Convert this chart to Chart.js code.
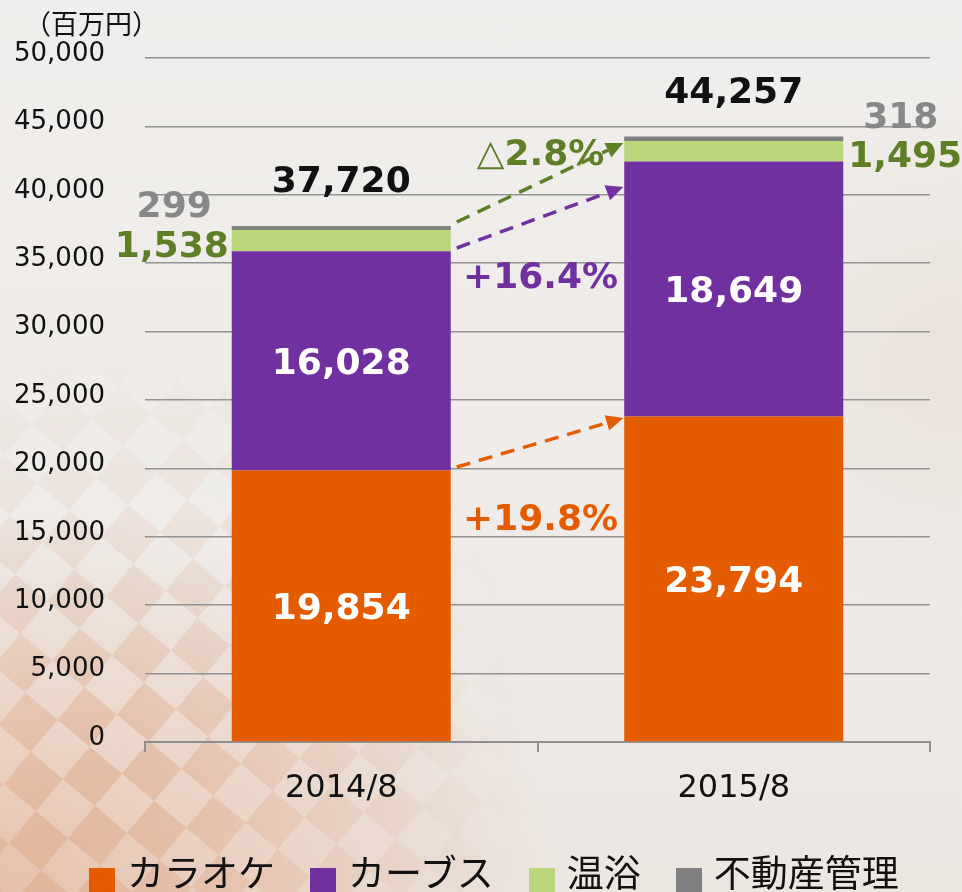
<!DOCTYPE html>
<html lang="ja">
<head>
<meta charset="utf-8">
<title>売上高推移</title>
<script src="https://cdn.jsdelivr.net/npm/chart.js@4.4.1/dist/chart.umd.min.js"></script>
<style>
  html, body { margin:0; padding:0; width:962px; height:892px; overflow:hidden; }
  body {
    position:relative;
    background:
      radial-gradient(ellipse 560px 380px at 0% 100%, rgba(222,150,110,0.55), rgba(222,150,110,0) 100%),
      radial-gradient(ellipse 300px 260px at 100% 40%, rgba(225,205,185,0.30), rgba(225,205,185,0) 100%),
      linear-gradient(180deg, #f0eeec 0%, #eeebe8 60%, #ece6e1 100%);
  }
  #mosaic {
    position:absolute; left:-260px; top:420px; width:900px; height:900px;
    background: repeating-conic-gradient(rgba(205,115,65,0.17) 0 25%, rgba(255,255,255,0.16) 0 50%) 0 0 / 84px 84px;
    transform: rotate(40deg);
    -webkit-mask-image: radial-gradient(circle at 35% 45%, #000 0%, rgba(0,0,0,0) 55%);
    mask-image: radial-gradient(circle at 35% 45%, #000 0%, rgba(0,0,0,0) 55%);
  }
  #wrap { position:absolute; left:0; top:0; width:962px; height:892px; }
  #legend {
    position:absolute; left:89px; top:853px; display:flex; align-items:flex-start;
    font-family:"Noto Sans CJK JP", sans-serif; font-size:37px; line-height:1; color:#111; white-space:nowrap;
  }
  #legend .item { display:flex; align-items:flex-start; margin-right:35px; }
  #legend .box { width:26px; height:30px; margin-top:15px; margin-right:12px; }
</style>
</head>
<body>
<div id="mosaic"></div>
<div id="wrap"><canvas id="c" width="962" height="892"></canvas></div>
<div id="legend"></div>
<script>
// ---- data ----
const categories = ['2014/8', '2015/8'];
const seriesNames = ['カラオケ', 'カーブス', '温浴', '不動産管理'];
const karaoke = [19854, 23794];
const curves = [16028, 18649];
const onsen = [1538, 1495];
const realEstate = [299, 318];
const totals = [37720, 44257];
const unitLabel = '（百万円）';
const growthLabels = ['+19.8%', '+16.4%', '△2.8%'];
const growthLabelValues = [16450, 34140, 43130];
const arrowFromValues = [20100, 36110, 38010];
const arrowToValues = [23680, 40570, 43790];

const seriesColors = ['#E55C00', '#7030A0', '#B9D67B', '#808080'];
const growthColors = ['#E55C00', '#7030A0', '#5F7F26'];

const fmt = v => v.toLocaleString('en-US');

function textC(ctx, txt, x, cy, size, align) {
  ctx.textAlign = align || 'center';
  ctx.textBaseline = 'alphabetic';
  ctx.fillText(txt, x, cy + size * 0.36);
}

const annotPlugin = {
  id: 'annot',
  afterDatasetsDraw(chart) {
    const ctx = chart.ctx;
    const ys = chart.scales.y, xs = chart.scales.x;
    const bars = [0,1,2,3].map(d => chart.getDatasetMeta(d).data.map(b => b.getProps(['x','y','base','width'], true)));
    const F = 36;
    ctx.save();
    ctx.font = 'bold ' + F + 'px "DejaVu Sans"';

    // white labels inside karaoke and curves segments
    [[0, karaoke], [1, curves]].forEach(([d, vals]) => {
      bars[d].forEach((b, i) => {
        ctx.fillStyle = '#ffffff';
        textC(ctx, fmt(vals[i]), b.x, (b.y + b.base) / 2, F);
      });
    });

    // onsen labels (outside)
    bars[2].forEach((b, i) => {
      ctx.fillStyle = '#5F7F26';
      const cy = (b.y + b.base) / 2 + 3;
      if (i === 0) textC(ctx, fmt(onsen[i]), b.x - b.width / 2 - 3, cy, F, 'right');
      else textC(ctx, fmt(onsen[i]), b.x + b.width / 2 + 5, cy, F, 'left');
    });

    // real estate labels
    bars[3].forEach((b, i) => {
      ctx.fillStyle = '#888888';
      const cy = b.y - 22;
      if (i === 0) textC(ctx, fmt(realEstate[i]), b.x - b.width / 2 - 20, cy, F, 'right');
      else textC(ctx, fmt(realEstate[i]), b.x + b.width / 2 + 20, cy, F, 'left');
    });

    // totals
    bars[3].forEach((b, i) => {
      ctx.fillStyle = '#111111';
      textC(ctx, fmt(totals[i]), b.x, b.y - 47, F);
    });

    // dashed arrows
    const b0 = bars[0][0], b1 = bars[0][1];
    const xStart = b0.x + b0.width / 2 + 6;
    const xEnd = b1.x - b1.width / 2 - 1;
    arrowFromValues.forEach((fv, k) => {
      const y1 = ys.getPixelForValue(fv), y2 = ys.getPixelForValue(arrowToValues[k]);
      const ang = Math.atan2(y2 - y1, xEnd - xStart);
      const headLen = 17, headW = 8;
      const lx = xEnd - Math.cos(ang) * headLen, ly = y2 - Math.sin(ang) * headLen;
      ctx.strokeStyle = growthColors[k];
      ctx.fillStyle = growthColors[k];
      ctx.lineWidth = 3.5;
      ctx.setLineDash([14, 9]);
      ctx.beginPath(); ctx.moveTo(xStart, y1); ctx.lineTo(lx, ly); ctx.stroke();
      ctx.setLineDash([]);
      ctx.beginPath();
      ctx.moveTo(xEnd, y2);
      ctx.lineTo(lx + Math.sin(ang) * headW, ly - Math.cos(ang) * headW);
      ctx.lineTo(lx - Math.sin(ang) * headW, ly + Math.cos(ang) * headW);
      ctx.closePath(); ctx.fill();
    });

    // growth labels
    const gx = xs.getPixelForValue(0.5);
    growthLabels.forEach((t, k) => {
      ctx.fillStyle = growthColors[k];
      textC(ctx, t, gx + 3, ys.getPixelForValue(growthLabelValues[k]), F);
    });

    // unit label
    ctx.font = '27px "Noto Sans CJK JP"';
    ctx.fillStyle = '#111111';
    ctx.textAlign = 'left';
    ctx.textBaseline = 'middle';
    ctx.fillText(unitLabel, 24, 24);
    ctx.restore();
  }
};

const ctx = document.getElementById('c').getContext('2d');
new Chart(ctx, {
  type: 'bar',
  data: {
    labels: categories,
    datasets: [
      { label: seriesNames[0], data: karaoke, backgroundColor: seriesColors[0] },
      { label: seriesNames[1], data: curves, backgroundColor: seriesColors[1] },
      { label: seriesNames[2], data: onsen, backgroundColor: seriesColors[2] },
      { label: seriesNames[3], data: realEstate, backgroundColor: seriesColors[3] }
    ]
  },
  options: {
    responsive: false,
    animation: false,
    devicePixelRatio: 1,
    layout: { padding: { top: 58, right: 32, left: 0, bottom: 0 } },
    datasets: { bar: { categoryPercentage: 1.0, barPercentage: 0.558, borderWidth: 0 } },
    plugins: { legend: { display: false }, tooltip: { enabled: false } },
    scales: {
      x: {
        stacked: true,
        offset: true,
        grid: { display: true, drawOnChartArea: false, drawTicks: true, tickLength: 10, color: '#8f8f8f', lineWidth: 2, offset: true },
        border: { display: true, color: '#8f8f8f', width: 2 },
        ticks: { color: '#111', font: { family: '"DejaVu Sans"', size: 32 }, padding: 17 },
        afterFit: s => { s.height = 150; }
      },
      y: {
        stacked: true,
        min: 0, max: 50000,
        grid: { color: '#939393', lineWidth: 1.5, drawTicks: false },
        border: { display: false },
        ticks: { stepSize: 5000, color: '#111', font: { family: '"DejaVu Sans"', size: 26 }, padding: 40, labelOffset: -4,
                 callback: v => fmt(v) },
        afterFit: s => { s.width = 145; }
      }
    }
  },
  plugins: [annotPlugin]
});

// HTML legend
const lg = document.getElementById('legend');
seriesNames.forEach((n, i) => {
  const it = document.createElement('div'); it.className = 'item';
  const bx = document.createElement('div'); bx.className = 'box'; bx.style.background = seriesColors[i];
  const tx = document.createElement('span'); tx.textContent = n;
  it.appendChild(bx); it.appendChild(tx); lg.appendChild(it);
});
</script>
</body>
</html>
